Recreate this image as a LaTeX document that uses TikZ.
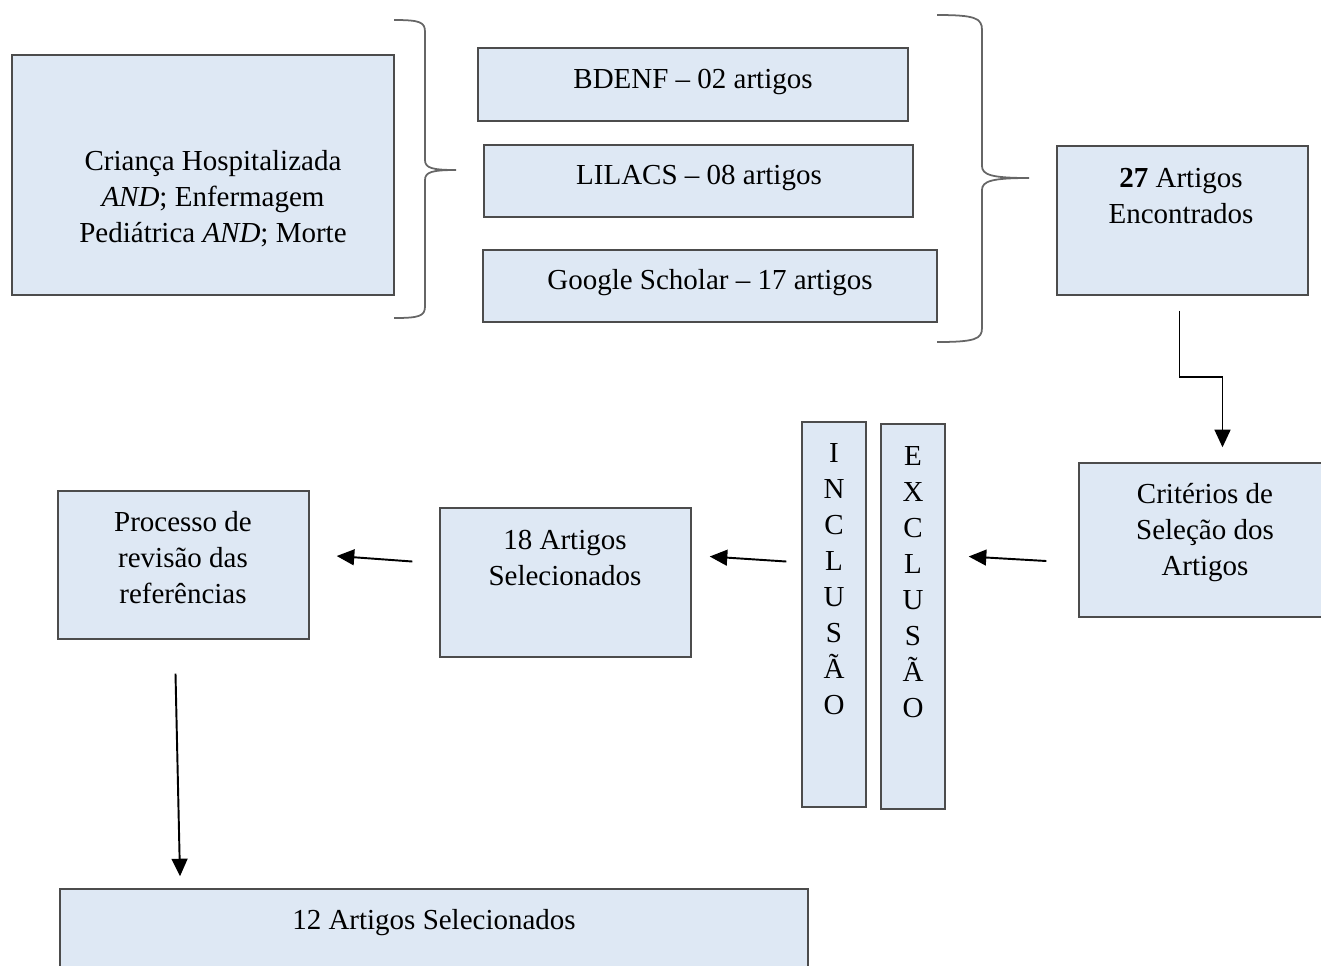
\documentclass[tikz,border=0pt]{standalone}
\usepackage{fontspec}
\setmainfont{Liberation Serif}
\usetikzlibrary{calc,positioning,arrows.meta,fit}

\definecolor{boxblue}{RGB}{222,232,244}

\tikzset{
    box/.style={draw=black!70, fill=boxblue, line width=0.8pt, inner sep=0pt},
    txt/.style={align=center, inner sep=0pt, font=\fontsize{16.5}{20.5}\selectfont},
    brace/.style={draw=black!60, line width=1pt},
    arr/.style={line width=1.1pt, -{Triangle[width=9pt,length=10pt]}}
}

\begin{document}
\begin{tikzpicture}[x=0.02cm, y=-0.02cm]
    \useasboundingbox (0,0) rectangle (1321,965);

    % Search terms and databases
    \node[box, fit={(12,55) (394,295)}] (query) {};
    \node[txt] (query-t) at (213,199) {Criança Hospitalizada\\\textit{AND}; Enfermagem\\Pediátrica \textit{AND}; Morte};

    \node[box, fit={(478,48) (908,121)}] (bdenf) {};
    \node[txt] (bdenf-t) at (693,82) {BDENF -- 02 artigos};
    \node[box, fit={(484,145) (913,217)}] (lilacs) {};
    \node[txt] (lilacs-t) at (699,178) {LILACS -- 08 artigos};
    \node[box, fit={(483,250) (937,322)}] (google) {};
    \node[txt] (google-t) at (710,283) {Google Scholar -- 17 artigos};

    % Braces
    \draw[brace] (394,20) .. controls (420,20) and (425,22) .. (425,32) -- (425,160)
        .. controls (425,168) and (432,170) .. (456,170)
        .. controls (432,170) and (425,172) .. (425,180) -- (425,306)
        .. controls (425,316) and (420,318) .. (394,318);
    \draw[brace] (937,15) .. controls (975,15) and (982,18) .. (982,30) -- (982,166)
        .. controls (982,175) and (992,178) .. (1029,178)
        .. controls (992,178) and (982,181) .. (982,190) -- (982,328)
        .. controls (982,339) and (975,342) .. (937,342);

    % Results
    \node[box, fit={(1057,146) (1308,295)}] (found) {};
    \node[txt] (found-t) at (1181,196) {\textbf{27} Artigos\\Encontrados};

    \node[box, fit={(1079,463) (1330,617)}] (crit) {};
    \node[txt] (crit-t) at (1205,533) {Critérios de\\Seleção dos\\Artigos};

    \node[box, fit={(881,424) (945,809)}] (excl) {};
    \node[txt] (excl-t) at (913,582) {E\\X\\C\\L\\U\\S\\Ã\\O};
    \node[box, fit={(802,422) (866,807)}] (incl) {};
    \node[txt] (incl-t) at (834,579) {I\\N\\C\\L\\U\\S\\Ã\\O};

    \node[box, fit={(440,508) (691,657)}] (sel) {};
    \node[txt] (sel-t) at (565,558) {18 Artigos\\Selecionados};

    \node[box, fit={(58,491) (309,639)}] (proc) {};
    \node[txt] (proc-t) at (183,558) {Processo de\\revisão das\\referências};

    \node[box, fit={(60,889) (808,1010)}] (final) {};
    \node[txt] (final-t) at (434,923) {12 Artigos Selecionados};

    % Connectors
    \draw[arr] ([shift={(-3,15)}]found.south) |- ([shift={(18,-85)}]crit.north)
        -- ([shift={(18,-15)}]crit.north);
    \draw[arr] ([shift={(-32,21)}]crit.west) -- ([shift={(23,-60)}]excl.east);
    \draw[arr] ([shift={(-15,-53)}]incl.west) -- ([shift={(18,-26)}]sel.east);
    \draw[arr] ([shift={(-27,-21)}]sel.west) -- ([shift={(27,-9)}]proc.east);
    \draw[arr] ([shift={(-8,34)}]proc.south) -- ([shift={(-254,-12)}]final.north);
\end{tikzpicture}
\end{document}
